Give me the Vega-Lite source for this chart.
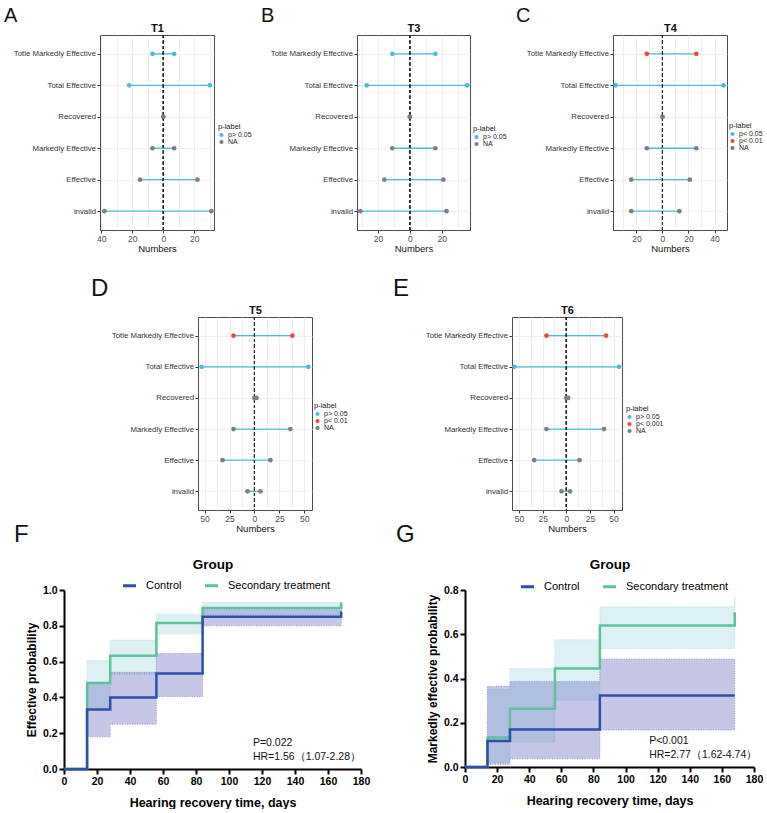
{
  "$schema": "https://vega.github.io/schema/vega-lite/v6.json",
  "background": "white",
  "padding": {"left": 3, "top": 5, "right": 0, "bottom": 0},
  "datasets": {
    "dots": [
      {"panel": "T1", "item": "Totle Markedly Effective", "left": -7, "right": 7, "p": "p> 0.05"},
      {"panel": "T1", "item": "Total Effective", "left": -22, "right": 30, "p": "p> 0.05"},
      {"panel": "T1", "item": "Recovered", "left": 0, "right": 0, "p": "NA"},
      {"panel": "T1", "item": "Markedly Effective", "left": -7, "right": 7, "p": "NA"},
      {"panel": "T1", "item": "Effective", "left": -15, "right": 22, "p": "NA"},
      {"panel": "T1", "item": "invalid", "left": -38, "right": 31, "p": "NA"},
      {"panel": "T3", "item": "Totle Markedly Effective", "left": -11, "right": 16, "p": "p> 0.05"},
      {"panel": "T3", "item": "Total Effective", "left": -27, "right": 36, "p": "p> 0.05"},
      {"panel": "T3", "item": "Recovered", "left": 0, "right": 0, "p": "NA"},
      {"panel": "T3", "item": "Markedly Effective", "left": -11, "right": 16, "p": "NA"},
      {"panel": "T3", "item": "Effective", "left": -16, "right": 21, "p": "NA"},
      {"panel": "T3", "item": "invalid", "left": -31, "right": 23, "p": "NA"},
      {"panel": "T4", "item": "Totle Markedly Effective", "left": -12, "right": 26, "p": "p< 0.01"},
      {"panel": "T4", "item": "Total Effective", "left": -36, "right": 47, "p": "p< 0.05"},
      {"panel": "T4", "item": "Recovered", "left": 0, "right": 0, "p": "NA"},
      {"panel": "T4", "item": "Markedly Effective", "left": -12, "right": 26, "p": "NA"},
      {"panel": "T4", "item": "Effective", "left": -24, "right": 21, "p": "NA"},
      {"panel": "T4", "item": "invalid", "left": -24, "right": 13, "p": "NA"},
      {"panel": "T5", "item": "Totle Markedly Effective", "left": -21, "right": 38, "p": "p< 0.01"},
      {"panel": "T5", "item": "Total Effective", "left": -53, "right": 54, "p": "p> 0.05"},
      {"panel": "T5", "item": "Recovered", "left": 0, "right": 2, "p": "NA"},
      {"panel": "T5", "item": "Markedly Effective", "left": -21, "right": 36, "p": "NA"},
      {"panel": "T5", "item": "Effective", "left": -32, "right": 16, "p": "NA"},
      {"panel": "T5", "item": "invalid", "left": -7, "right": 6, "p": "NA"},
      {"panel": "T6", "item": "Totle Markedly Effective", "left": -21, "right": 42, "p": "p< 0.001"},
      {"panel": "T6", "item": "Total Effective", "left": -55, "right": 56, "p": "p> 0.05"},
      {"panel": "T6", "item": "Recovered", "left": 0, "right": 2, "p": "NA"},
      {"panel": "T6", "item": "Markedly Effective", "left": -21, "right": 40, "p": "NA"},
      {"panel": "T6", "item": "Effective", "left": -34, "right": 14, "p": "NA"},
      {"panel": "T6", "item": "invalid", "left": -5, "right": 4, "p": "NA"}
    ],
    "km": [
      {"chart": "F", "group": "Control", "day": 0, "prob": 0},
      {"chart": "F", "group": "Control", "day": 14, "prob": 0.333},
      {"chart": "F", "group": "Control", "day": 28, "prob": 0.4},
      {"chart": "F", "group": "Control", "day": 56, "prob": 0.533},
      {"chart": "F", "group": "Control", "day": 84, "prob": 0.85},
      {"chart": "F", "group": "Control", "day": 168, "prob": 0.85},
      {"chart": "F", "group": "Control", "day": 168, "prob": 0.88},
      {"chart": "F", "group": "Secondary treatment", "day": 0, "prob": 0},
      {"chart": "F", "group": "Secondary treatment", "day": 14, "prob": 0.48},
      {"chart": "F", "group": "Secondary treatment", "day": 28, "prob": 0.633},
      {"chart": "F", "group": "Secondary treatment", "day": 56, "prob": 0.815},
      {"chart": "F", "group": "Secondary treatment", "day": 84, "prob": 0.9},
      {"chart": "F", "group": "Secondary treatment", "day": 168, "prob": 0.9},
      {"chart": "F", "group": "Secondary treatment", "day": 168, "prob": 0.93},
      {"chart": "G", "group": "Control", "day": 0, "prob": 0},
      {"chart": "G", "group": "Control", "day": 14, "prob": 0.118},
      {"chart": "G", "group": "Control", "day": 28, "prob": 0.17},
      {"chart": "G", "group": "Control", "day": 56, "prob": 0.17},
      {"chart": "G", "group": "Control", "day": 84, "prob": 0.323},
      {"chart": "G", "group": "Control", "day": 168, "prob": 0.323},
      {"chart": "G", "group": "Secondary treatment", "day": 0, "prob": 0},
      {"chart": "G", "group": "Secondary treatment", "day": 14, "prob": 0.133},
      {"chart": "G", "group": "Secondary treatment", "day": 28, "prob": 0.263},
      {"chart": "G", "group": "Secondary treatment", "day": 56, "prob": 0.445},
      {"chart": "G", "group": "Secondary treatment", "day": 84, "prob": 0.64},
      {"chart": "G", "group": "Secondary treatment", "day": 168, "prob": 0.64},
      {"chart": "G", "group": "Secondary treatment", "day": 168, "prob": 0.7}
    ],
    "bands": [
      {"chart": "F", "group": "Control", "day": 14, "lo": 0.18, "hi": 0.48},
      {"chart": "F", "group": "Control", "day": 28, "lo": 0.25, "hi": 0.54},
      {"chart": "F", "group": "Control", "day": 56, "lo": 0.405, "hi": 0.645},
      {"chart": "F", "group": "Control", "day": 84, "lo": 0.8, "hi": 0.89},
      {"chart": "F", "group": "Control", "day": 168, "lo": 0.8, "hi": 0.89},
      {"chart": "F", "group": "Secondary treatment", "day": 14, "lo": 0.345, "hi": 0.605},
      {"chart": "F", "group": "Secondary treatment", "day": 28, "lo": 0.53, "hi": 0.72},
      {"chart": "F", "group": "Secondary treatment", "day": 56, "lo": 0.755, "hi": 0.865},
      {"chart": "F", "group": "Secondary treatment", "day": 84, "lo": 0.86, "hi": 0.93},
      {"chart": "F", "group": "Secondary treatment", "day": 168, "lo": 0.86, "hi": 0.93},
      {"chart": "G", "group": "Control", "day": 14, "lo": 0.012, "hi": 0.365},
      {"chart": "G", "group": "Control", "day": 28, "lo": 0.037, "hi": 0.386},
      {"chart": "G", "group": "Control", "day": 56, "lo": 0.037, "hi": 0.386},
      {"chart": "G", "group": "Control", "day": 84, "lo": 0.167, "hi": 0.488},
      {"chart": "G", "group": "Control", "day": 168, "lo": 0.167, "hi": 0.488},
      {"chart": "G", "group": "Secondary treatment", "day": 14, "lo": 0.02, "hi": 0.35},
      {"chart": "G", "group": "Secondary treatment", "day": 28, "lo": 0.113, "hi": 0.445},
      {"chart": "G", "group": "Secondary treatment", "day": 56, "lo": 0.302, "hi": 0.575},
      {"chart": "G", "group": "Secondary treatment", "day": 84, "lo": 0.536, "hi": 0.724},
      {"chart": "G", "group": "Secondary treatment", "day": 168, "lo": 0.536, "hi": 0.724},
      {"chart": "G", "group": "Secondary treatment", "day": 168, "lo": 0.7, "hi": 0.77}
    ],
    "notes": [
      {"chart": "F", "line": "P=0.022", "day": 114.5, "prob": 0.144},
      {"chart": "F", "line": "HR=1.56（1.07-2.28）", "day": 114.5, "prob": 0.065},
      {"chart": "G", "line": "P<0.001", "day": 114.7, "prob": 0.116},
      {"chart": "G", "line": "HR=2.77（1.62-4.74）", "day": 114.7, "prob": 0.055}
    ]
  },
  "vconcat": [
    {
      "hconcat": [
        {"width": 36, "height": 259, "view": {"stroke": null}, "data": {"values": []}, "mark": {"type": "point"}},
        {
          "width": 114, "height": 195,
          "title": {"text": "A", "anchor": "start", "frame": "group", "fontSize": 20, "fontWeight": "normal", "dx": -96, "offset": -4},
          "data": {"name": "dots"},
          "transform": [{"filter": "datum.panel === 'T1'"}],
          "layer": [
            {"mark": {"type": "rule", "color": "#4DBBD5", "strokeWidth": 1.3},
             "encoding": {
               "y": {"field": "item", "type": "nominal", "sort": ["Totle Markedly Effective", "Total Effective", "Recovered", "Markedly Effective", "Effective", "invalid"], "scale": {"type": "point", "padding": 0.6},
                     "axis": {"title": null, "labelFontSize": 7.8, "labelColor": "#333", "tickSize": 3, "tickColor": "#333", "labelPadding": 1.5, "domain": false, "grid": true, "gridColor": "#ebebeb", "gridWidth": 0.8}},
               "x": {"field": "left", "type": "quantitative", "scale": {"domain": [-40.8, 32.7], "nice": false, "zero": false},
                     "axis": {"orient": "bottom", "values": [-40, -20, 0, 20], "labelExpr": "abs(datum.value)", "title": "Numbers", "grid": false, "domain": false, "tickSize": 3, "tickColor": "#333", "labelFontSize": 8.5, "labelColor": "#4d4d4d", "labelPadding": 1, "labelFlush": false, "labelOverlap": false, "titleFontSize": 9.5, "titleFontWeight": "normal", "titleColor": "#111", "titlePadding": 1}},
               "x2": {"field": "right"}
             }},
            {"mark": {"type": "rule", "color": "#222", "strokeDash": [3, 2.5], "strokeWidth": 0.8},
             "encoding": {"x": {"datum": 0, "type": "quantitative",
               "axis": {"orient": "top", "title": "T1", "values": [-40, -30, -20, -10, 0, 10, 20, 30], "labels": false, "ticks": false, "domain": false, "grid": true, "gridColor": "#ebebeb", "gridWidth": 0.8, "titleFontSize": 11, "titleFontWeight": "bold", "titleColor": "#111", "titlePadding": 2}}}},
            {"transform": [{"fold": ["left", "right"], "as": ["side", "n"]}],
             "mark": {"type": "circle", "size": 22, "opacity": 1},
             "encoding": {
               "x": {"field": "n", "type": "quantitative", "axis": null},
               "y": {"field": "item", "type": "nominal", "sort": ["Totle Markedly Effective", "Total Effective", "Recovered", "Markedly Effective", "Effective", "invalid"]},
               "color": {"field": "p", "type": "nominal", "scale": {"domain": ["p> 0.05", "NA"], "range": ["#4DBBD5", "#7F7F7F"]},
                         "legend": {"title": "p-label", "orient": "none", "legendX": 118, "legendY": 88, "titleFontSize": 7.5, "titleFontWeight": "normal", "titleColor": "#222", "titlePadding": 1, "labelFontSize": 7, "labelColor": "#222", "symbolSize": 18, "symbolType": "circle", "rowPadding": -1, "labelOffset": 3, "padding": 0}}
             }}
          ]
        },
        {"width": 143, "height": 1, "view": {"stroke": null}, "data": {"values": []}, "mark": {"type": "point"}},
        {
          "width": 113, "height": 195,
          "title": {"text": "B", "anchor": "start", "frame": "group", "fontSize": 20, "fontWeight": "normal", "dx": -96, "offset": -4},
          "data": {"name": "dots"},
          "transform": [{"filter": "datum.panel === 'T3'"}],
          "layer": [
            {"mark": {"type": "rule", "color": "#4DBBD5", "strokeWidth": 1.3},
             "encoding": {
               "y": {"field": "item", "type": "nominal", "sort": ["Totle Markedly Effective", "Total Effective", "Recovered", "Markedly Effective", "Effective", "invalid"], "scale": {"type": "point", "padding": 0.6},
                     "axis": {"title": null, "labelFontSize": 7.8, "labelColor": "#333", "tickSize": 3, "tickColor": "#333", "labelPadding": 1.5, "domain": false, "grid": true, "gridColor": "#ebebeb", "gridWidth": 0.8}},
               "x": {"field": "left", "type": "quantitative", "scale": {"domain": [-33.1, 37.7], "nice": false, "zero": false},
                     "axis": {"orient": "bottom", "values": [-20, 0, 20], "labelExpr": "abs(datum.value)", "title": "Numbers", "grid": false, "domain": false, "tickSize": 3, "tickColor": "#333", "labelFontSize": 8.5, "labelColor": "#4d4d4d", "labelPadding": 1, "labelFlush": false, "labelOverlap": false, "titleFontSize": 9.5, "titleFontWeight": "normal", "titleColor": "#111", "titlePadding": 1}},
               "x2": {"field": "right"}
             }},
            {"mark": {"type": "rule", "color": "#222", "strokeDash": [3, 2.5], "strokeWidth": 0.8},
             "encoding": {"x": {"datum": 0, "type": "quantitative",
               "axis": {"orient": "top", "title": "T3", "values": [-30, -20, -10, 0, 10, 20, 30], "labels": false, "ticks": false, "domain": false, "grid": true, "gridColor": "#ebebeb", "gridWidth": 0.8, "titleFontSize": 11, "titleFontWeight": "bold", "titleColor": "#111", "titlePadding": 2}}}},
            {"transform": [{"fold": ["left", "right"], "as": ["side", "n"]}],
             "mark": {"type": "circle", "size": 22, "opacity": 1},
             "encoding": {
               "x": {"field": "n", "type": "quantitative", "axis": null},
               "y": {"field": "item", "type": "nominal", "sort": ["Totle Markedly Effective", "Total Effective", "Recovered", "Markedly Effective", "Effective", "invalid"]},
               "color": {"field": "p", "type": "nominal", "scale": {"domain": ["p> 0.05", "NA"], "range": ["#4DBBD5", "#7F7F7F"]},
                         "legend": {"title": "p-label", "orient": "none", "legendX": 116, "legendY": 90, "titleFontSize": 7.5, "titleFontWeight": "normal", "titleColor": "#222", "titlePadding": 1, "labelFontSize": 7, "labelColor": "#222", "symbolSize": 18, "symbolType": "circle", "rowPadding": -1, "labelOffset": 3, "padding": 0}}
             }}
          ]
        },
        {"width": 143, "height": 1, "view": {"stroke": null}, "data": {"values": []}, "mark": {"type": "point"}},
        {
          "width": 114, "height": 195,
          "title": {"text": "C", "anchor": "start", "frame": "group", "fontSize": 20, "fontWeight": "normal", "dx": -97, "offset": -4},
          "data": {"name": "dots"},
          "transform": [{"filter": "datum.panel === 'T4'"}],
          "layer": [
            {"mark": {"type": "rule", "color": "#4DBBD5", "strokeWidth": 1.3},
             "encoding": {
               "y": {"field": "item", "type": "nominal", "sort": ["Totle Markedly Effective", "Total Effective", "Recovered", "Markedly Effective", "Effective", "invalid"], "scale": {"type": "point", "padding": 0.6},
                     "axis": {"title": null, "labelFontSize": 7.8, "labelColor": "#333", "tickSize": 3, "tickColor": "#333", "labelPadding": 1.5, "domain": false, "grid": true, "gridColor": "#ebebeb", "gridWidth": 0.8}},
               "x": {"field": "left", "type": "quantitative", "scale": {"domain": [-38, 49.6], "nice": false, "zero": false},
                     "axis": {"orient": "bottom", "values": [-20, 0, 20, 40], "labelExpr": "abs(datum.value)", "title": "Numbers", "grid": false, "domain": false, "tickSize": 3, "tickColor": "#333", "labelFontSize": 8.5, "labelColor": "#4d4d4d", "labelPadding": 1, "labelFlush": false, "labelOverlap": false, "titleFontSize": 9.5, "titleFontWeight": "normal", "titleColor": "#111", "titlePadding": 1}},
               "x2": {"field": "right"}
             }},
            {"mark": {"type": "rule", "color": "#222", "strokeDash": [3, 2.5], "strokeWidth": 0.8},
             "encoding": {"x": {"datum": 0, "type": "quantitative",
               "axis": {"orient": "top", "title": "T4", "values": [-30, -20, -10, 0, 10, 20, 30, 40], "labels": false, "ticks": false, "domain": false, "grid": true, "gridColor": "#ebebeb", "gridWidth": 0.8, "titleFontSize": 11, "titleFontWeight": "bold", "titleColor": "#111", "titlePadding": 2}}}},
            {"transform": [{"fold": ["left", "right"], "as": ["side", "n"]}],
             "mark": {"type": "circle", "size": 22, "opacity": 1},
             "encoding": {
               "x": {"field": "n", "type": "quantitative", "axis": null},
               "y": {"field": "item", "type": "nominal", "sort": ["Totle Markedly Effective", "Total Effective", "Recovered", "Markedly Effective", "Effective", "invalid"]},
               "color": {"field": "p", "type": "nominal", "scale": {"domain": ["p< 0.05", "p< 0.01", "NA"], "range": ["#4DBBD5", "#E64B35", "#7F7F7F"]},
                         "legend": {"title": "p-label", "orient": "none", "legendX": 116, "legendY": 87, "titleFontSize": 7.5, "titleFontWeight": "normal", "titleColor": "#222", "titlePadding": 1, "labelFontSize": 7, "labelColor": "#222", "symbolSize": 18, "symbolType": "circle", "rowPadding": -1, "labelOffset": 3, "padding": 0}}
             }}
          ]
        }
      ],
      "spacing": 0, "bounds": "flush",
      "resolve": {"scale": {"color": "independent", "x": "independent", "y": "independent"}, "legend": {"color": "independent"}}
    },
    {
      "hconcat": [
        {"width": 134, "height": 224, "view": {"stroke": null}, "data": {"values": []}, "mark": {"type": "point"}},
        {
          "width": 114, "height": 193,
          "title": {"text": "D", "anchor": "start", "frame": "group", "fontSize": 24, "fontWeight": "normal", "dx": -107, "offset": 3},
          "data": {"name": "dots"},
          "transform": [{"filter": "datum.panel === 'T5'"}],
          "layer": [
            {"mark": {"type": "rule", "color": "#4DBBD5", "strokeWidth": 1.3},
             "encoding": {
               "y": {"field": "item", "type": "nominal", "sort": ["Totle Markedly Effective", "Total Effective", "Recovered", "Markedly Effective", "Effective", "invalid"], "scale": {"type": "point", "padding": 0.6},
                     "axis": {"title": null, "labelFontSize": 7.8, "labelColor": "#333", "tickSize": 3, "tickColor": "#333", "labelPadding": 1.5, "domain": false, "grid": true, "gridColor": "#ebebeb", "gridWidth": 0.8}},
               "x": {"field": "left", "type": "quantitative", "scale": {"domain": [-56.6, 57.7], "nice": false, "zero": false},
                     "axis": {"orient": "bottom", "values": [-50, -25, 0, 25, 50], "labelExpr": "abs(datum.value)", "title": "Numbers", "grid": false, "domain": false, "tickSize": 3, "tickColor": "#333", "labelFontSize": 8.5, "labelColor": "#4d4d4d", "labelPadding": 1, "labelFlush": false, "labelOverlap": false, "titleFontSize": 9.5, "titleFontWeight": "normal", "titleColor": "#111", "titlePadding": 1}},
               "x2": {"field": "right"}
             }},
            {"mark": {"type": "rule", "color": "#222", "strokeDash": [3, 2.5], "strokeWidth": 0.8},
             "encoding": {"x": {"datum": 0, "type": "quantitative",
               "axis": {"orient": "top", "title": "T5", "values": [-50, -37.5, -25, -12.5, 0, 12.5, 25, 37.5, 50], "labels": false, "ticks": false, "domain": false, "grid": true, "gridColor": "#ebebeb", "gridWidth": 0.8, "titleFontSize": 11, "titleFontWeight": "bold", "titleColor": "#111", "titlePadding": 2}}}},
            {"transform": [{"fold": ["left", "right"], "as": ["side", "n"]}],
             "mark": {"type": "circle", "size": 22, "opacity": 1},
             "encoding": {
               "x": {"field": "n", "type": "quantitative", "axis": null},
               "y": {"field": "item", "type": "nominal", "sort": ["Totle Markedly Effective", "Total Effective", "Recovered", "Markedly Effective", "Effective", "invalid"]},
               "color": {"field": "p", "type": "nominal", "scale": {"domain": ["p> 0.05", "p< 0.01", "NA"], "range": ["#4DBBD5", "#E64B35", "#7F7F7F"]},
                         "legend": {"title": "p-label", "orient": "none", "legendX": 116, "legendY": 85, "titleFontSize": 7.5, "titleFontWeight": "normal", "titleColor": "#222", "titlePadding": 1, "labelFontSize": 7, "labelColor": "#222", "symbolSize": 18, "symbolType": "circle", "rowPadding": -1, "labelOffset": 3, "padding": 0}}
             }}
          ]
        },
        {"width": 200, "height": 1, "view": {"stroke": null}, "data": {"values": []}, "mark": {"type": "point"}},
        {
          "width": 110, "height": 193,
          "title": {"text": "E", "anchor": "start", "frame": "group", "fontSize": 24, "fontWeight": "normal", "dx": -119, "offset": 3},
          "data": {"name": "dots"},
          "transform": [{"filter": "datum.panel === 'T6'"}],
          "layer": [
            {"mark": {"type": "rule", "color": "#4DBBD5", "strokeWidth": 1.3},
             "encoding": {
               "y": {"field": "item", "type": "nominal", "sort": ["Totle Markedly Effective", "Total Effective", "Recovered", "Markedly Effective", "Effective", "invalid"], "scale": {"type": "point", "padding": 0.6},
                     "axis": {"title": null, "labelFontSize": 7.8, "labelColor": "#333", "tickSize": 3, "tickColor": "#333", "labelPadding": 1.5, "domain": false, "grid": true, "gridColor": "#ebebeb", "gridWidth": 0.8}},
               "x": {"field": "left", "type": "quantitative", "scale": {"domain": [-57.5, 59], "nice": false, "zero": false},
                     "axis": {"orient": "bottom", "values": [-50, -25, 0, 25, 50], "labelExpr": "abs(datum.value)", "title": "Numbers", "grid": false, "domain": false, "tickSize": 3, "tickColor": "#333", "labelFontSize": 8.5, "labelColor": "#4d4d4d", "labelPadding": 1, "labelFlush": false, "labelOverlap": false, "titleFontSize": 9.5, "titleFontWeight": "normal", "titleColor": "#111", "titlePadding": 1}},
               "x2": {"field": "right"}
             }},
            {"mark": {"type": "rule", "color": "#222", "strokeDash": [3, 2.5], "strokeWidth": 0.8},
             "encoding": {"x": {"datum": 0, "type": "quantitative",
               "axis": {"orient": "top", "title": "T6", "values": [-50, -37.5, -25, -12.5, 0, 12.5, 25, 37.5, 50], "labels": false, "ticks": false, "domain": false, "grid": true, "gridColor": "#ebebeb", "gridWidth": 0.8, "titleFontSize": 11, "titleFontWeight": "bold", "titleColor": "#111", "titlePadding": 2}}}},
            {"transform": [{"fold": ["left", "right"], "as": ["side", "n"]}],
             "mark": {"type": "circle", "size": 22, "opacity": 1},
             "encoding": {
               "x": {"field": "n", "type": "quantitative", "axis": null},
               "y": {"field": "item", "type": "nominal", "sort": ["Totle Markedly Effective", "Total Effective", "Recovered", "Markedly Effective", "Effective", "invalid"]},
               "color": {"field": "p", "type": "nominal", "scale": {"domain": ["p> 0.05", "p< 0.001", "NA"], "range": ["#4DBBD5", "#E64B35", "#7F7F7F"]},
                         "legend": {"title": "p-label", "orient": "none", "legendX": 114, "legendY": 88, "titleFontSize": 7.5, "titleFontWeight": "normal", "titleColor": "#222", "titlePadding": 1, "labelFontSize": 7, "labelColor": "#222", "symbolSize": 18, "symbolType": "circle", "rowPadding": -1, "labelOffset": 3, "padding": 0}}
             }}
          ]
        }
      ],
      "spacing": 0, "bounds": "flush",
      "resolve": {"scale": {"color": "independent", "x": "independent", "y": "independent"}, "legend": {"color": "independent"}}
    },
    {
      "hconcat": [
        {
          "width": 297, "height": 179,
          "view": {"stroke": null},
          "title": {"text": "F", "anchor": "start", "frame": "group", "fontSize": 24, "fontWeight": "normal", "dx": -50, "offset": 10},
          "layer": [
            {"data": {"name": "bands"},
             "transform": [{"filter": "datum.chart === 'F' && datum.group === 'Secondary treatment'"}],
             "mark": {"type": "area", "interpolate": "step-after", "fill": "#8fd0dc", "fillOpacity": 0.3, "stroke": "#9fd8de", "strokeWidth": 0.8, "strokeDash": [1, 1.5]},
             "encoding": {
               "x": {"field": "day", "type": "quantitative", "scale": {"domain": [0, 180], "nice": false},
                     "axis": {"orient": "bottom", "values": [0, 20, 40, 60, 80, 100, 120, 140, 160, 180], "title": "Hearing recovery time, days", "grid": false, "domainColor": "#000", "domainWidth": 2, "tickColor": "#000", "tickWidth": 2, "tickSize": 5, "labelFontWeight": "bold", "labelFontSize": 10.5, "labelColor": "#000", "labelPadding": 2, "labelFlush": false, "labelOverlap": false, "titleFontSize": 12.5, "titleFontWeight": "bold", "titleColor": "#000", "titlePadding": 10}},
               "y": {"field": "lo", "type": "quantitative", "scale": {"domain": [0, 1], "nice": false},
                     "axis": {"values": [0, 0.2, 0.4, 0.6, 0.8, 1], "format": ".1f", "title": "Effective probability", "grid": false, "domainColor": "#000", "domainWidth": 2, "tickColor": "#000", "tickWidth": 2, "tickSize": 5, "labelFontWeight": "bold", "labelFontSize": 10.5, "labelColor": "#000", "labelPadding": 2, "labelFlush": false, "labelOverlap": false, "labelBound": false, "titleFontSize": 12, "titleFontWeight": "bold", "titleColor": "#000", "titlePadding": 4}},
               "y2": {"field": "hi"}
             }},
            {"data": {"name": "bands"},
             "transform": [{"filter": "datum.chart === 'F' && datum.group === 'Control'"}],
             "mark": {"type": "area", "interpolate": "step-after", "fill": "#5b5fb8", "fillOpacity": 0.35, "stroke": "#7f84cc", "strokeWidth": 0.8, "strokeDash": [1, 1.5]},
             "encoding": {
               "x": {"field": "day", "type": "quantitative", "axis": null},
               "y": {"field": "lo", "type": "quantitative",
                     "axis": {"values": [0, 0.2, 0.4, 0.6, 0.8, 1], "format": ".1f", "title": "Effective probability", "grid": false, "domainColor": "#000", "domainWidth": 2, "tickColor": "#000", "tickWidth": 2, "tickSize": 5, "labelFontWeight": "bold", "labelFontSize": 10.5, "labelColor": "#000", "labelPadding": 2, "labelFlush": false, "labelOverlap": false, "labelBound": false, "titleFontSize": 12, "titleFontWeight": "bold", "titleColor": "#000", "titlePadding": 4}},
               "y2": {"field": "hi"}
             }},
            {"data": {"name": "km"},
             "transform": [{"filter": "datum.chart === 'F' && datum.group === 'Secondary treatment'"}],
             "mark": {"type": "line", "interpolate": "step-after", "strokeWidth": 2.5},
             "encoding": {
               "x": {"field": "day", "type": "quantitative", "axis": null},
               "y": {"field": "prob", "type": "quantitative",
                     "axis": {"values": [0, 0.2, 0.4, 0.6, 0.8, 1], "format": ".1f", "title": "Effective probability", "grid": false, "domainColor": "#000", "domainWidth": 2, "tickColor": "#000", "tickWidth": 2, "tickSize": 5, "labelFontWeight": "bold", "labelFontSize": 10.5, "labelColor": "#000", "labelPadding": 2, "labelFlush": false, "labelOverlap": false, "labelBound": false, "titleFontSize": 12, "titleFontWeight": "bold", "titleColor": "#000", "titlePadding": 4}},
               "color": {"field": "group", "type": "nominal", "scale": {"domain": ["Control", "Secondary treatment"], "range": ["#2D4FA8", "#5DC29A"]},
                         "legend": {"title": null, "orient": "none", "legendX": 57, "legendY": -13, "direction": "horizontal", "columns": 2, "symbolType": "stroke", "symbolStrokeWidth": 3, "symbolSize": 170, "labelFontSize": 11, "labelColor": "#000", "labelOffset": 8, "columnPadding": 16, "padding": 0}}
             }},
            {"data": {"name": "km"},
             "transform": [{"filter": "datum.chart === 'F' && datum.group === 'Control'"}],
             "mark": {"type": "line", "interpolate": "step-after", "strokeWidth": 2.5},
             "encoding": {
               "x": {"field": "day", "type": "quantitative", "axis": null},
               "y": {"field": "prob", "type": "quantitative",
                     "axis": {"values": [0, 0.2, 0.4, 0.6, 0.8, 1], "format": ".1f", "title": "Effective probability", "grid": false, "domainColor": "#000", "domainWidth": 2, "tickColor": "#000", "tickWidth": 2, "tickSize": 5, "labelFontWeight": "bold", "labelFontSize": 10.5, "labelColor": "#000", "labelPadding": 2, "labelFlush": false, "labelOverlap": false, "labelBound": false, "titleFontSize": 12, "titleFontWeight": "bold", "titleColor": "#000", "titlePadding": 4}},
               "color": {"field": "group", "type": "nominal"}
             }},
            {"data": {"name": "notes"},
             "transform": [{"filter": "datum.chart === 'F'"}],
             "mark": {"type": "text", "align": "left", "baseline": "middle", "fontSize": 10.5, "color": "#111"},
             "encoding": {
               "x": {"field": "day", "type": "quantitative",
                     "axis": {"orient": "top", "title": "Group", "labels": false, "ticks": false, "domain": false, "grid": false, "titleFontSize": 13.5, "titleFontWeight": "bold", "titleColor": "#000", "titlePadding": 19}},
               "y": {"field": "prob", "type": "quantitative",
                     "axis": {"values": [0, 0.2, 0.4, 0.6, 0.8, 1], "format": ".1f", "title": "Effective probability", "grid": false, "domainColor": "#000", "domainWidth": 2, "tickColor": "#000", "tickWidth": 2, "tickSize": 5, "labelFontWeight": "bold", "labelFontSize": 10.5, "labelColor": "#000", "labelPadding": 2, "labelFlush": false, "labelOverlap": false, "labelBound": false, "titleFontSize": 12, "titleFontWeight": "bold", "titleColor": "#000", "titlePadding": 4}},
               "text": {"field": "line"}
             }}
          ]
        },
        {"width": 104, "height": 1, "view": {"stroke": null}, "data": {"values": []}, "mark": {"type": "point"}},
        {
          "width": 289, "height": 177,
          "view": {"stroke": null},
          "title": {"text": "G", "anchor": "start", "frame": "group", "fontSize": 24, "fontWeight": "normal", "dx": -69, "offset": 10},
          "layer": [
            {"data": {"name": "bands"},
             "transform": [{"filter": "datum.chart === 'G' && datum.group === 'Secondary treatment'"}],
             "mark": {"type": "area", "interpolate": "step-after", "fill": "#8fd0dc", "fillOpacity": 0.3, "stroke": "#9fd8de", "strokeWidth": 0.8, "strokeDash": [1, 1.5]},
             "encoding": {
               "x": {"field": "day", "type": "quantitative", "scale": {"domain": [0, 180], "nice": false},
                     "axis": {"orient": "bottom", "values": [0, 20, 40, 60, 80, 100, 120, 140, 160, 180], "title": "Hearing recovery time, days", "grid": false, "domainColor": "#000", "domainWidth": 2, "tickColor": "#000", "tickWidth": 2, "tickSize": 5, "labelFontWeight": "bold", "labelFontSize": 10.5, "labelColor": "#000", "labelPadding": 2, "labelFlush": false, "labelOverlap": false, "titleFontSize": 12.5, "titleFontWeight": "bold", "titleColor": "#000", "titlePadding": 10}},
               "y": {"field": "lo", "type": "quantitative", "scale": {"domain": [0, 0.8], "nice": false},
                     "axis": {"values": [0, 0.2, 0.4, 0.6, 0.8], "format": ".1f", "title": "Markedly effective probability", "grid": false, "domainColor": "#000", "domainWidth": 2, "tickColor": "#000", "tickWidth": 2, "tickSize": 5, "labelFontWeight": "bold", "labelFontSize": 10.5, "labelColor": "#000", "labelPadding": 2, "labelFlush": false, "labelOverlap": false, "labelBound": false, "titleFontSize": 12, "titleFontWeight": "bold", "titleColor": "#000", "titlePadding": 4}},
               "y2": {"field": "hi"}
             }},
            {"data": {"name": "bands"},
             "transform": [{"filter": "datum.chart === 'G' && datum.group === 'Control'"}],
             "mark": {"type": "area", "interpolate": "step-after", "fill": "#5b5fb8", "fillOpacity": 0.35, "stroke": "#7f84cc", "strokeWidth": 0.8, "strokeDash": [1, 1.5]},
             "encoding": {
               "x": {"field": "day", "type": "quantitative", "axis": null},
               "y": {"field": "lo", "type": "quantitative",
                     "axis": {"values": [0, 0.2, 0.4, 0.6, 0.8], "format": ".1f", "title": "Markedly effective probability", "grid": false, "domainColor": "#000", "domainWidth": 2, "tickColor": "#000", "tickWidth": 2, "tickSize": 5, "labelFontWeight": "bold", "labelFontSize": 10.5, "labelColor": "#000", "labelPadding": 2, "labelFlush": false, "labelOverlap": false, "labelBound": false, "titleFontSize": 12, "titleFontWeight": "bold", "titleColor": "#000", "titlePadding": 4}},
               "y2": {"field": "hi"}
             }},
            {"data": {"name": "km"},
             "transform": [{"filter": "datum.chart === 'G' && datum.group === 'Secondary treatment'"}],
             "mark": {"type": "line", "interpolate": "step-after", "strokeWidth": 2.5},
             "encoding": {
               "x": {"field": "day", "type": "quantitative", "axis": null},
               "y": {"field": "prob", "type": "quantitative",
                     "axis": {"values": [0, 0.2, 0.4, 0.6, 0.8], "format": ".1f", "title": "Markedly effective probability", "grid": false, "domainColor": "#000", "domainWidth": 2, "tickColor": "#000", "tickWidth": 2, "tickSize": 5, "labelFontWeight": "bold", "labelFontSize": 10.5, "labelColor": "#000", "labelPadding": 2, "labelFlush": false, "labelOverlap": false, "labelBound": false, "titleFontSize": 12, "titleFontWeight": "bold", "titleColor": "#000", "titlePadding": 4}},
               "color": {"field": "group", "type": "nominal", "scale": {"domain": ["Control", "Secondary treatment"], "range": ["#2D4FA8", "#5DC29A"]},
                         "legend": {"title": null, "orient": "none", "legendX": 54, "legendY": -12, "direction": "horizontal", "columns": 2, "symbolType": "stroke", "symbolStrokeWidth": 3, "symbolSize": 170, "labelFontSize": 11, "labelColor": "#000", "labelOffset": 8, "columnPadding": 16, "padding": 0}}
             }},
            {"data": {"name": "km"},
             "transform": [{"filter": "datum.chart === 'G' && datum.group === 'Control'"}],
             "mark": {"type": "line", "interpolate": "step-after", "strokeWidth": 2.5},
             "encoding": {
               "x": {"field": "day", "type": "quantitative", "axis": null},
               "y": {"field": "prob", "type": "quantitative",
                     "axis": {"values": [0, 0.2, 0.4, 0.6, 0.8], "format": ".1f", "title": "Markedly effective probability", "grid": false, "domainColor": "#000", "domainWidth": 2, "tickColor": "#000", "tickWidth": 2, "tickSize": 5, "labelFontWeight": "bold", "labelFontSize": 10.5, "labelColor": "#000", "labelPadding": 2, "labelFlush": false, "labelOverlap": false, "labelBound": false, "titleFontSize": 12, "titleFontWeight": "bold", "titleColor": "#000", "titlePadding": 4}},
               "color": {"field": "group", "type": "nominal"}
             }},
            {"data": {"name": "notes"},
             "transform": [{"filter": "datum.chart === 'G'"}],
             "mark": {"type": "text", "align": "left", "baseline": "middle", "fontSize": 10.5, "color": "#111"},
             "encoding": {
               "x": {"field": "day", "type": "quantitative",
                     "axis": {"orient": "top", "title": "Group", "labels": false, "ticks": false, "domain": false, "grid": false, "titleFontSize": 13.5, "titleFontWeight": "bold", "titleColor": "#000", "titlePadding": 19}},
               "y": {"field": "prob", "type": "quantitative",
                     "axis": {"values": [0, 0.2, 0.4, 0.6, 0.8], "format": ".1f", "title": "Markedly effective probability", "grid": false, "domainColor": "#000", "domainWidth": 2, "tickColor": "#000", "tickWidth": 2, "tickSize": 5, "labelFontWeight": "bold", "labelFontSize": 10.5, "labelColor": "#000", "labelPadding": 2, "labelFlush": false, "labelOverlap": false, "labelBound": false, "titleFontSize": 12, "titleFontWeight": "bold", "titleColor": "#000", "titlePadding": 4}},
               "text": {"field": "line"}
             }}
          ]
        }
      ],
      "spacing": 0, "bounds": "flush",
      "resolve": {"scale": {"color": "independent", "x": "independent", "y": "independent"}, "legend": {"color": "independent"}}
    }
  ],
  "spacing": -18,
  "bounds": "full",
  "resolve": {"scale": {"color": "independent", "x": "independent", "y": "independent"}, "legend": {"color": "independent"}},
  "config": {
    "font": "Liberation Sans",
    "view": {"stroke": "#4d4d4d", "strokeWidth": 1},
    "title": {"font": "Liberation Sans", "color": "#111"},
    "axis": {"labelFont": "Liberation Sans", "titleFont": "Liberation Sans"},
    "legend": {"labelFont": "Liberation Sans", "titleFont": "Liberation Sans"}
  }
}
